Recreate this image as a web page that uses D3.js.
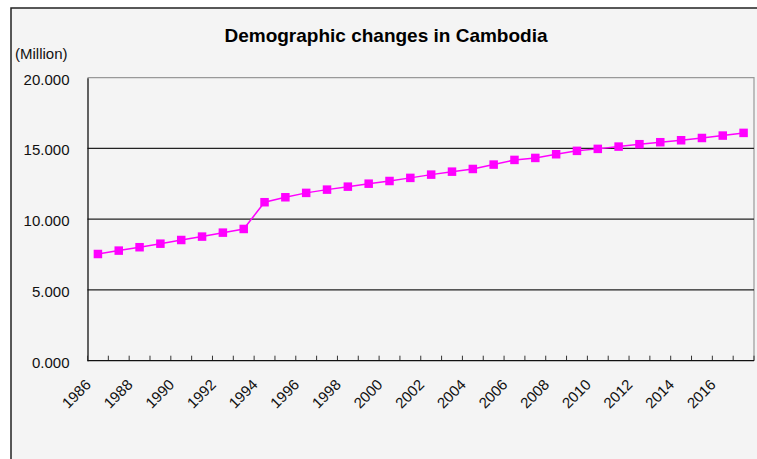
<!DOCTYPE html>
<html>
<head>
<meta charset="utf-8">
<script src="https://cdn.jsdelivr.net/npm/d3@7.9.0/dist/d3.min.js"></script>
<style>
  body { margin: 0; background: #fff; }
  svg { display: block; }
</style>
</head>
<body>
<div id="chart"></div>
<script>
const years = [1986, 1987, 1988, 1989, 1990, 1991, 1992, 1993, 1994, 1995, 1996,
  1997, 1998, 1999, 2000, 2001, 2002, 2003, 2004, 2005, 2006, 2007, 2008, 2009,
  2010, 2011, 2012, 2013, 2014, 2015, 2016, 2017];

// population, million
const population = [7.54, 7.78, 8.02, 8.27, 8.53, 8.77, 9.05, 9.31, 11.20, 11.55,
  11.86, 12.09, 12.30, 12.51, 12.70, 12.92, 13.15, 13.36, 13.55, 13.86, 14.19,
  14.33, 14.59, 14.83, 14.97, 15.13, 15.30, 15.44, 15.58, 15.74, 15.91, 16.10];

const yTicks = [0, 5, 10, 15, 20];
const xTickLabels = [1986, 1988, 1990, 1992, 1994, 1996, 1998, 2000, 2002, 2004,
  2006, 2008, 2010, 2012, 2014, 2016];

const title = 'Demographic changes in Cambodia';
const unitLabel = '(Million)';

const width = 757;
const height = 459;
const plot = { left: 87.5, right: 754, top: 77.7, bottom: 360.7 };

const svg = d3.select('#chart')
  .append('svg')
  .attr('width', width)
  .attr('height', height);

// outer frame
svg.append('rect')
  .attr('x', 11)
  .attr('y', 8)
  .attr('width', width + 20)
  .attr('height', height + 20)
  .attr('fill', '#f4f4f4')
  .attr('stroke', '#222')
  .attr('stroke-width', 1.5);

const xScale = d3.scaleBand()
  .domain(years)
  .range([plot.left, plot.right]);

const yScale = d3.scaleLinear()
  .domain([0, 20])
  .range([plot.bottom, plot.top]);

// plot border (top + right in gray)
svg.append('path')
  .attr('d', `M${plot.left},${plot.top}H${plot.right}V${plot.bottom}`)
  .attr('fill', 'none')
  .attr('stroke', '#999')
  .attr('stroke-width', 1.2);

// gridlines
svg.append('g')
  .selectAll('line')
  .data(yTicks.filter(d => d > 0 && d < 20))
  .join('line')
  .attr('x1', plot.left)
  .attr('x2', plot.right)
  .attr('y1', d => yScale(d))
  .attr('y2', d => yScale(d))
  .attr('stroke', '#222')
  .attr('stroke-width', 1.2);

// y axis
const yAxis = svg.append('g')
  .attr('transform', `translate(${plot.left}, 0)`)
  .call(d3.axisLeft(yScale).tickValues(yTicks).tickSize(0).tickFormat(d3.format('.3f')));

yAxis.select('.domain').attr('stroke', '#111').attr('stroke-width', 1.3);
yAxis.selectAll('text')
  .attr('x', -18)
  .attr('dy', '0.42em')
  .attr('fill', '#111')
  .style('font-family', '"Liberation Sans", Arial, sans-serif')
  .style('font-size', '15px');

// x axis: ticks at band boundaries, pointing inside
const boundaries = years.map(y => xScale(y)).concat([plot.right]);
svg.append('g')
  .selectAll('line')
  .data(boundaries)
  .join('line')
  .attr('x1', d => d)
  .attr('x2', d => d)
  .attr('y1', plot.bottom)
  .attr('y2', plot.bottom - 5)
  .attr('stroke', '#333')
  .attr('stroke-width', 1);

svg.append('line')
  .attr('x1', plot.left)
  .attr('x2', plot.right)
  .attr('y1', plot.bottom)
  .attr('y2', plot.bottom)
  .attr('stroke', '#111')
  .attr('stroke-width', 1.3);

svg.append('g')
  .selectAll('text')
  .data(xTickLabels)
  .join('text')
  .attr('transform', d => `translate(${xScale(d) + xScale.bandwidth() / 2 - 6}, ${plot.bottom + 25}) rotate(-45)`)
  .attr('text-anchor', 'end')
  .attr('fill', '#111')
  .style('font-family', '"Liberation Sans", Arial, sans-serif')
  .style('font-size', '15px')
  .text(d => d);

// line + markers
const lineGenerator = d3.line()
  .x((d, i) => xScale(years[i]) + xScale.bandwidth() / 2)
  .y(d => yScale(d));

svg.append('path')
  .datum(population)
  .attr('fill', 'none')
  .attr('stroke', '#ff00ff')
  .attr('stroke-width', 1.5)
  .attr('d', lineGenerator);

const markerSize = 8.5;
svg.append('g')
  .selectAll('rect')
  .data(population)
  .join('rect')
  .attr('x', (d, i) => xScale(years[i]) + xScale.bandwidth() / 2 - markerSize / 2)
  .attr('y', d => yScale(d) - markerSize / 2)
  .attr('width', markerSize)
  .attr('height', markerSize)
  .attr('fill', '#ff00ff');

// title and unit
svg.append('text')
  .attr('x', 386)
  .attr('y', 42.3)
  .attr('text-anchor', 'middle')
  .attr('fill', '#000')
  .style('font-family', '"Liberation Sans", Arial, sans-serif')
  .style('font-weight', 'bold')
  .style('font-size', '19px')
  .text(title);

svg.append('text')
  .attr('x', 15)
  .attr('y', 59)
  .attr('fill', '#111')
  .style('font-family', '"Liberation Sans", Arial, sans-serif')
  .style('font-size', '15px')
  .text(unitLabel);
</script>
</body>
</html>
